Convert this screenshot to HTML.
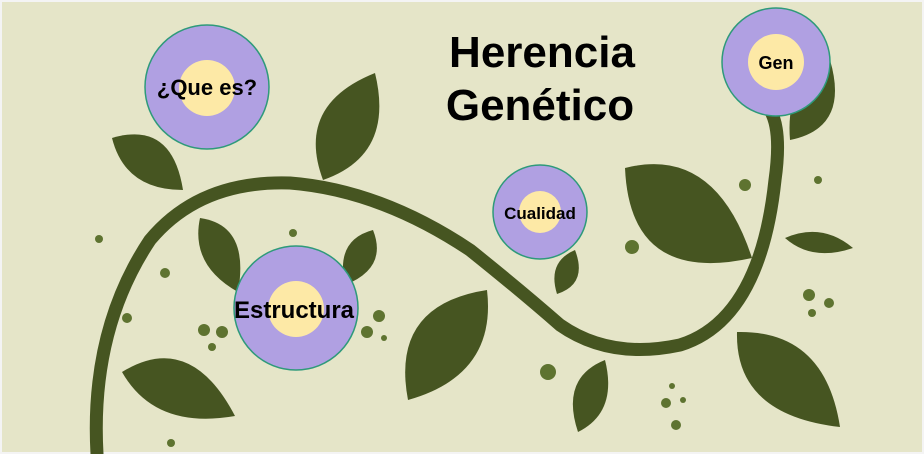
<!DOCTYPE html>
<html><head><meta charset="utf-8"><style>
html,body{margin:0;padding:0;background:#fff}
svg{display:block}
text{font-family:"Liberation Sans",sans-serif;font-weight:bold;fill:#000}
</style></head><body>
<svg width="924" height="454" viewBox="0 0 924 454" xmlns="http://www.w3.org/2000/svg">
<rect x="0" y="0" width="924" height="454" fill="#f4f4f4"/>
<rect x="2" y="2" width="920" height="450" fill="#e5e5c8"/>
<g fill="#465521">
<path d="M112,138 Q172,120 183,190 Q125,190 112,138Z"/>
<path d="M323,180 Q295,105 375,73 Q395,155 323,180Z"/>
<path d="M200,218 Q250,225 238,292 Q190,265 200,218Z"/>
<path d="M345,285 Q335,240 373,230 Q388,268 345,285Z"/>
<path d="M122,372 Q190,330 235,416 Q155,430 122,372Z"/>
<path d="M408,400 Q390,305 487,290 Q497,375 408,400Z"/>
<path d="M557,294 Q547,262 575,250 Q588,284 557,294Z"/>
<path d="M625,168 Q715,145 752,258 Q630,285 625,168Z"/>
<path d="M790,140 Q785,78 830,60 Q850,128 790,140Z"/>
<path d="M785,238 Q822,222 853,248 Q812,262 785,238Z"/>
<path d="M737,332 Q825,330 840,427 Q735,415 737,332Z"/>
<path d="M578,432 Q560,378 605,360 Q618,412 578,432Z"/>
</g>
<path d="M97,454 Q90,330 150,240 Q200,180 290,183 Q380,190 470,250 Q520,290 560,325 Q610,360 680,345 Q760,320 775,180 Q782,130 770,110" fill="none" stroke="#465521" stroke-width="13" stroke-linecap="round"/>
<g fill="#5e7330">
<circle cx="99" cy="239" r="4"/><circle cx="165" cy="273" r="5"/><circle cx="127" cy="318" r="5"/>
<circle cx="293" cy="233" r="4"/><circle cx="204" cy="330" r="6"/><circle cx="222" cy="332" r="6"/>
<circle cx="212" cy="347" r="4"/><circle cx="379" cy="316" r="6"/><circle cx="367" cy="332" r="6"/>
<circle cx="384" cy="338" r="3"/><circle cx="171" cy="443" r="4"/><circle cx="632" cy="247" r="7"/>
<circle cx="745" cy="185" r="6"/><circle cx="818" cy="180" r="4"/><circle cx="548" cy="372" r="8"/>
<circle cx="809" cy="295" r="6"/><circle cx="829" cy="303" r="5"/><circle cx="812" cy="313" r="4"/>
<circle cx="672" cy="386" r="3"/><circle cx="666" cy="403" r="5"/><circle cx="683" cy="400" r="3"/>
<circle cx="676" cy="425" r="5"/>
</g>
<g stroke="#2e9a7a" stroke-width="1.5">
<circle cx="207" cy="87" r="62" fill="#b0a0e2"/>
<circle cx="296" cy="308" r="62" fill="#b0a0e2"/>
<circle cx="540" cy="212" r="47" fill="#b0a0e2"/>
<circle cx="776" cy="62" r="54" fill="#b0a0e2"/>
</g>
<g fill="#fde9a6">
<circle cx="207" cy="88" r="28"/><circle cx="296" cy="309" r="28"/>
<circle cx="540" cy="212" r="21"/><circle cx="776" cy="62" r="28"/>
</g>
<text x="207" y="95" font-size="22" text-anchor="middle">¿Que es?</text>
<text x="294" y="318" font-size="24" text-anchor="middle">Estructura</text>
<text x="540" y="219" font-size="17" text-anchor="middle">Cualidad</text>
<text x="776" y="69" font-size="18" text-anchor="middle">Gen</text>
<text x="542" y="67" font-size="44" text-anchor="middle">Herencia</text>
<text x="540" y="120" font-size="44" text-anchor="middle">Genético</text>
</svg>
</body></html>
